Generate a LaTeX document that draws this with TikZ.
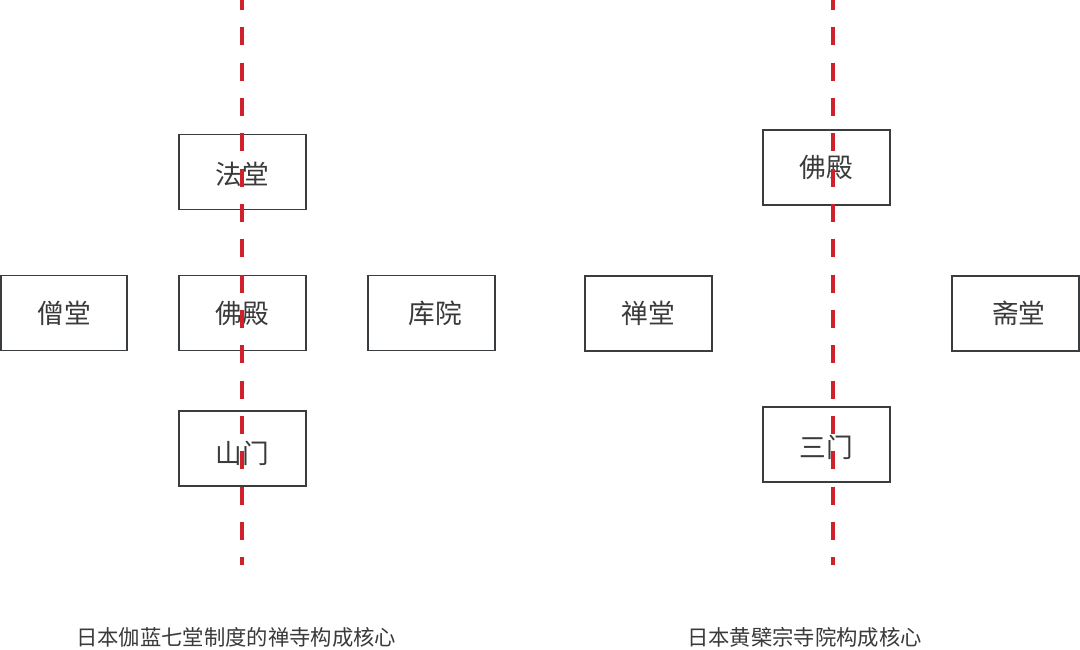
\documentclass[tikz,border=0pt]{standalone}
\usepackage{fontspec}
\newfontfamily\cjk{Noto Sans CJK SC}
\definecolor{boxline}{HTML}{3A3D3F}
\definecolor{axisred}{HTML}{D0202A}
\definecolor{txt}{HTML}{3A3A3A}
\newcommand{\lowertext}[2]{\raisebox{-#1}[\height][\depth]{#2}}
\tikzset{
  hall/.style={draw=boxline, line width=1.4pt, minimum width=126.5*0.75pt, minimum height=75*0.75pt, inner sep=0pt, font=\cjk\fontsize{20}{23}\selectfont, text=txt},
  axisline/.style={draw=axisred, line width=2.3pt, dash pattern=on 13.5pt off 13pt, dash phase=6pt},
  caption/.style={font=\cjk\fontsize{16}{19}\selectfont, text=txt, inner sep=0pt}
}
\begin{document}
\begin{tikzpicture}[x=0.75pt,y=-0.75pt]
\useasboundingbox (0,0) rectangle (1080,649);
\fill[white] (0,0) rectangle (1080,649);
% left layout
\node[hall] (fatang) at (242.5,172) {\lowertext{2pt}{法堂}};
\node[hall] (sengtang) at (64,313) {僧堂};
\node[hall] (fodian) at (242.5,313) {佛殿};
\node[hall] (kuyuan) at (431.5,313) {\hspace*{6pt}库院};
\node[hall] (shanmen) at (242.5,448.5) {\lowertext{4pt}{山门}};
% right layout
\node[hall] (fodianR) at (826.5,167.5) {佛殿};
\node[hall] (chantang) at (648.5,313.5) {禅堂};
\node[hall] (zhaitang) at (1015.5,313.5) {\hspace*{5pt}斋堂};
\node[hall] (sanmen) at (826.5,444.5) {\lowertext{2.5pt}{三门}};
% axes
\coordinate (axL1) at (242,0);
\coordinate (axL2) at (242,565);
\coordinate (axR1) at (833,0);
\coordinate (axR2) at (833,565);
\draw[axisline] (axL1) -- (axL2);
\draw[axisline] (axR1) -- (axR2);
% captions
\node[caption, anchor=west] (capL) at (76,637) {日本伽蓝七堂制度的禅寺构成核心};
\node[caption, anchor=west] (capR) at (687,637) {日本黄檗宗寺院构成核心};
\end{tikzpicture}
\end{document}
